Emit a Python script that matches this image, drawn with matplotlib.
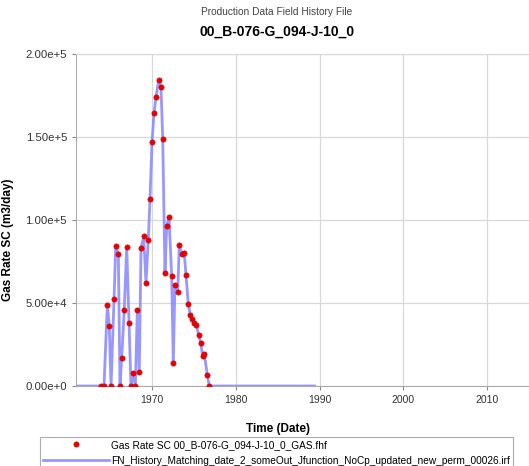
import matplotlib
matplotlib.use('Agg')
import matplotlib.pyplot as plt
import numpy as np

plt.rcParams['font.family'] = ['Liberation Sans', 'DejaVu Sans']

# history data (decimal year, gas rate m3/day)
hist_years = [1963.91, 1964.27, 1964.67, 1964.90, 1965.11, 1965.47, 1965.67, 1965.98,
              1966.18, 1966.38, 1966.69, 1966.98, 1967.26, 1967.49, 1967.70, 1968.01,
              1968.25, 1968.48, 1968.69, 1969.01, 1969.28, 1969.56, 1969.76, 1970.00,
              1970.24, 1970.48, 1970.80, 1971.07, 1971.28, 1971.55, 1971.75, 1972.03,
              1972.35, 1972.54, 1972.74, 1973.07, 1973.26, 1973.54, 1973.85, 1974.06,
              1974.33, 1974.57, 1974.81, 1975.05, 1975.29, 1975.57, 1975.81, 1976.05,
              1976.24, 1976.60, 1976.84]
hist_rate = [0, 0, 49000, 36000, 0, 52500, 84000, 79600,
             0, 16700, 46000, 83600, 37800, 0, 8000, 0,
             46000, 8600, 83000, 90000, 62000, 88000, 112400, 146900,
             164000, 174000, 184000, 179700, 148800, 67700, 96500, 101700,
             66000, 14000, 61000, 56500, 85000, 79600, 80000, 66600,
             49400, 42800, 40200, 37800, 36400, 30900, 25900, 18100,
             19500, 6600, 0]

# simulated run: zero before and after the history period
sim_start = 1960.93
sim_end = 1989.4
sim_years = [sim_start] + hist_years + [sim_end]
sim_rate = [0] + hist_rate + [0]

xticks = [1970, 1980, 1990, 2000, 2010]
yticks = [0, 50000, 100000, 150000, 200000]
ylabels = ['0.00e+0', '5.00e+4', '1.00e+5', '1.50e+5', '2.00e+5']

fig = plt.figure(figsize=(5.29, 4.66), dpi=100)
ax = fig.add_axes([0.1437, 0.1717, 0.8563, 0.7133])

l1, = ax.plot(sim_years, sim_rate, color='#8585ff', lw=2.0, alpha=0.85, zorder=2,
              label='FN_History_Matching_date_2_someOut_Jfunction_NoCp_updated_new_perm_00026.irf')
p1, = ax.plot(hist_years, hist_rate, 'o', color='#ee0000', ms=3.8, mec='#cc0000', mew=0.4,
              zorder=3, label='Gas Rate SC 00_B-076-G_094-J-10_0_GAS.fhf')

ax.set_xlim(1960.93, 2015.0)
ax.set_ylim(0, 200000)
ax.set_xticks(xticks)
ax.set_xticklabels([str(t) for t in xticks], fontsize=7.5, color='#333333')
ax.set_yticks(yticks)
ax.set_yticklabels(ylabels, fontsize=8.2, color='#333333')
ax.grid(True, color='#d8d8d8', lw=0.9)
ax.set_axisbelow(True)
ax.tick_params(length=3, color='#888888', width=0.8)
ax.spines['right'].set_visible(False)
for s in ['left', 'bottom']:
    ax.spines[s].set_color('#aaaaaa')
ax.spines['top'].set_color('#d8d8d8')

ax.set_xlabel('Time (Date)', fontsize=8.5, fontweight='bold')
ax.xaxis.set_label_coords(0.446, -0.111)
ax.set_ylabel('Gas Rate SC (m3/day)', fontsize=8.5, fontweight='bold')
ax.yaxis.set_label_coords(-0.137, 0.44)

fig.text(277 / 529, 1 - 12 / 466, 'Production Data Field History File', ha='center', va='center',
         fontsize=7.3, color='#444444')
fig.text(277 / 529, 1 - 32 / 466, '00_B-076-G_094-J-10_0', ha='center', va='center',
         fontsize=10, fontweight='bold')

leg = fig.legend(handles=[p1, l1], loc='upper left', bbox_to_anchor=(40 / 529, 1 - 437 / 466),
                 fontsize=7.3, frameon=True, fancybox=False, edgecolor='#999999',
                 handlelength=6.5, handletextpad=0.2, borderpad=0.3, labelspacing=0.55,
                 borderaxespad=0)
leg.get_frame().set_linewidth(0.8)

fig.savefig('out.png', dpi=100)
